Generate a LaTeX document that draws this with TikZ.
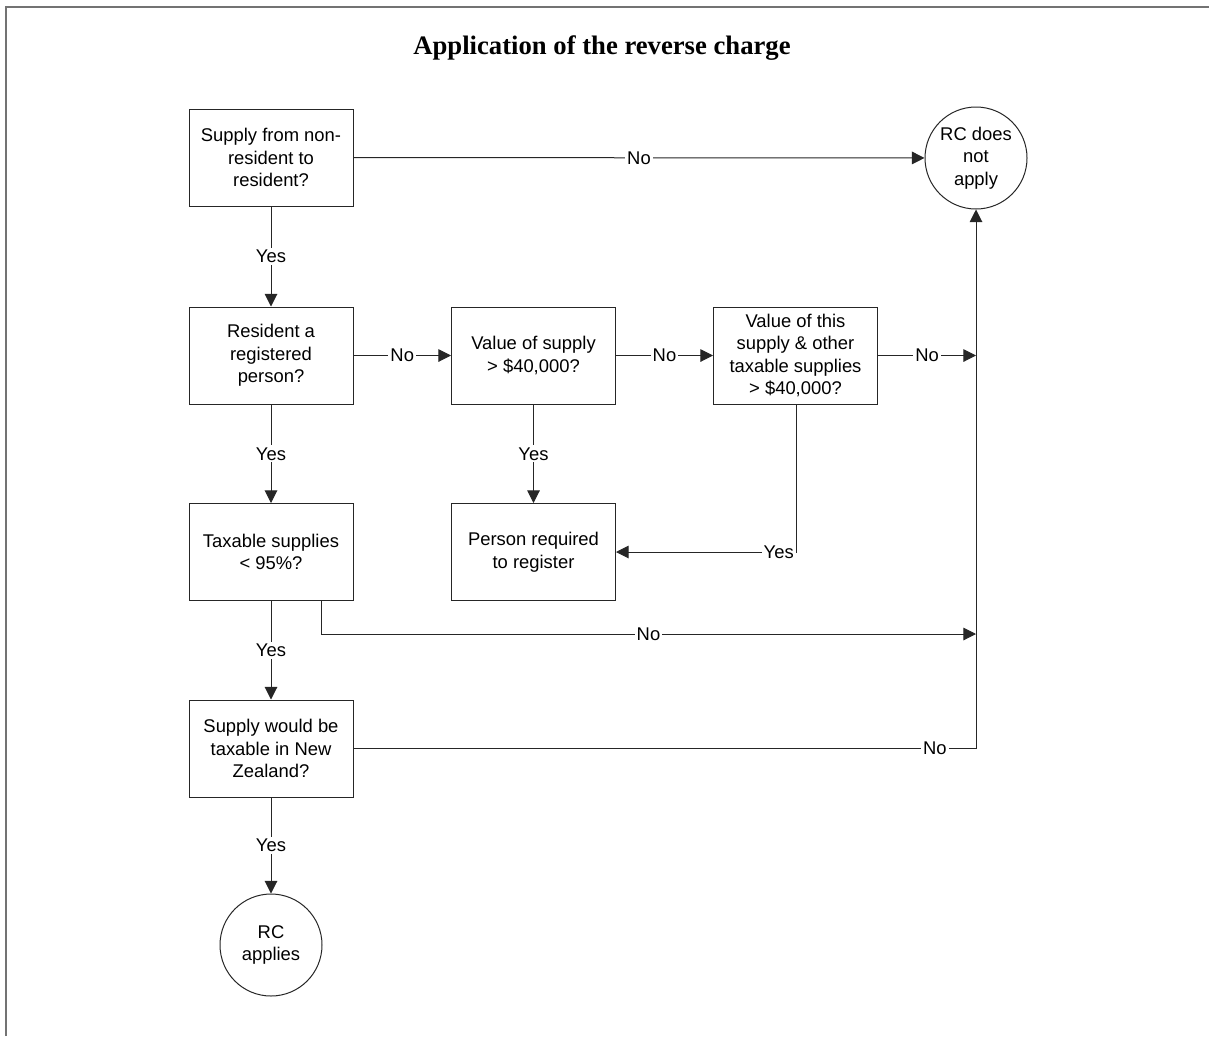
\documentclass[tikz,border=0pt]{standalone}
\usepackage{fontspec}
\setmainfont{Liberation Sans}
\newfontfamily\titlefont{Liberation Serif}
\usetikzlibrary{arrows.meta}
\tikzset{
  px/.style={x=0.75pt,y=-0.75pt},
  boxnode/.style={draw=black!85, line width=0.75pt, minimum width=123pt, minimum height=72.75pt,
     inner sep=1pt, align=center, font=\fontsize{13.8pt}{16.9pt}\selectfont},
  endnode/.style={draw=black!85, line width=0.75pt, circle, minimum size=76.5pt, inner sep=0pt,
     align=center, font=\fontsize{13.8pt}{16.9pt}\selectfont},
  lbl/.style={fill=white, inner sep=1.5pt, font=\fontsize{13.8pt}{16.9pt}\selectfont},
  conn/.style={draw=black!85, line width=0.75pt},
  arr/.style={conn, -{Triangle[length=9.5pt,width=9.5pt]}}
}
\begin{document}
\begin{tikzpicture}[px]
\useasboundingbox (0,0) rectangle (1209,1036);
% frame
\draw[black!55, line width=1.1pt] (6,1036) -- (6,7) -- (1209,7);
% title
\node (title) at (602,48.5) {\titlefont\bfseries\fontsize{20pt}{24pt}\selectfont Application of the reverse charge};
% nodes
\node[boxnode] (A) at (271,157.5) {Supply from non-\\resident to\\resident?};
\node[boxnode] (B) at (271,355.5) {Resident a\\registered\\person?};
\node[boxnode] (C) at (533.5,355.5) {Value of supply\\> \$40,000?};
\node[boxnode] (D) at (795.5,355.5) {Value of this\\supply \& other\\taxable supplies\\> \$40,000?};
\node[boxnode] (E) at (271,552) {Taxable supplies\\< 95\%?};
\node[boxnode] (F) at (533.5,552) {Person required\\to register};
\node[boxnode] (G) at (271,748.5) {Supply would be\\taxable in New\\Zealand?};
\node[endnode] (N) at (976,158) {RC does\\not\\apply};
\node[endnode] (Y) at (271,945) {RC\\applies};
% junction coordinates
\coordinate (j1) at (976,355.5);
\coordinate (j2) at (976,634);
\coordinate (j3) at (976,748.5);
\coordinate (c1) at (796,552);
\coordinate (e0) at (321,634);
% connectors
\draw[arr] (A) -- node[lbl]{No} (N);
\draw[arr] (A) -- node[lbl]{Yes} (B);
\draw[arr] (B) -- node[lbl]{No} (C);
\draw[arr] (C) -- node[lbl]{No} (D);
\draw[arr] (D) -- node[lbl]{No} (j1);
\draw[arr] (B) -- node[lbl]{Yes} (E);
\draw[arr] (C) -- node[lbl]{Yes} (F);
\draw[arr] (D.south -| c1) -- (c1) -- (F.east);
\node[lbl, anchor=east] (yl) at (c1) {Yes};
\draw[arr] (E.south -| e0) -- (e0) -- node[lbl]{No} (j2);
\draw[arr] (E) -- node[lbl]{Yes} (G);
\draw[arr] (G) -- node[lbl, pos=0.934]{No} (j3) -- (N);
\draw[arr] (G) -- node[lbl]{Yes} (Y);
\end{tikzpicture}
\end{document}
